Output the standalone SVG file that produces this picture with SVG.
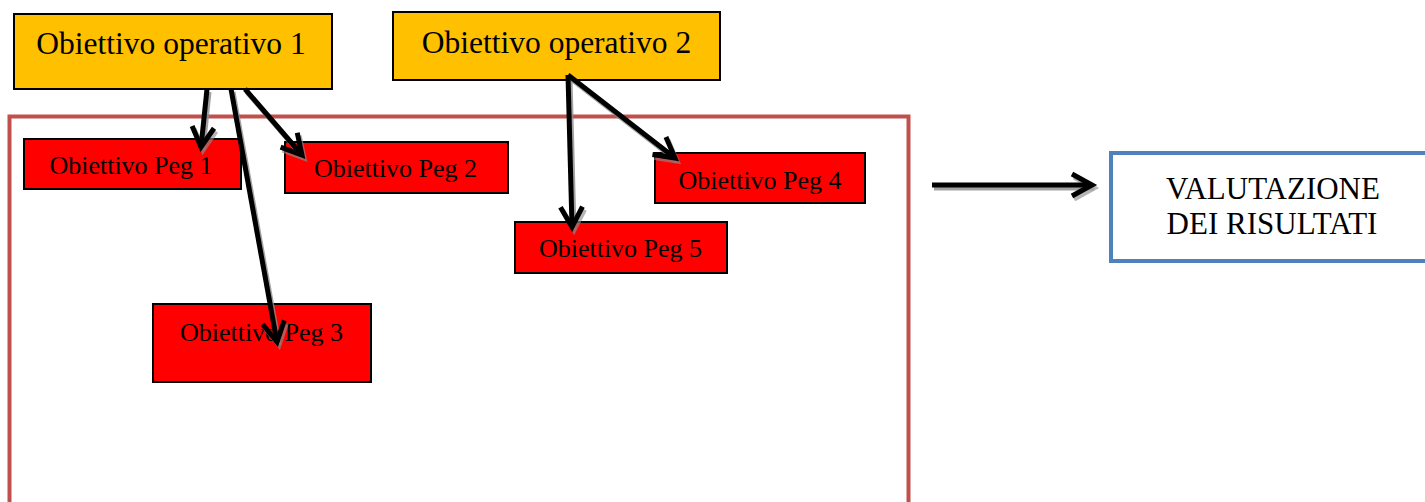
<svg xmlns="http://www.w3.org/2000/svg" width="1425" height="502" viewBox="0 0 1425 502">
<style>
.op{fill:#FFC000;stroke:#000;stroke-width:2}
.peg{fill:#FF0000;stroke:#000;stroke-width:2}
.t{font-family:"Liberation Serif","Times New Roman",serif;fill:#000;text-anchor:middle}
.top{font-size:31.5px}
.tp{font-size:26px}
.tv{font-size:31px}
.ln{fill:none;stroke:#000;stroke-width:5;stroke-linejoin:miter}
.sh{fill:none;stroke:#8C8C8C;stroke-width:5;opacity:0.8}
</style>
<defs>
<marker id="ah" markerUnits="userSpaceOnUse" viewBox="-30 -20 40 40" markerWidth="40" markerHeight="40" refX="0" refY="0" orient="auto" overflow="visible">
<path d="M -20 -11 L 0 0 L -20 11" fill="none" stroke="#000" stroke-width="5"/>
</marker>
<marker id="ahs" markerUnits="userSpaceOnUse" viewBox="-30 -20 40 40" markerWidth="40" markerHeight="40" refX="0" refY="0" orient="auto" overflow="visible">
<path d="M -20 -11 L 0 0 L -20 11" fill="none" stroke="#8C8C8C" stroke-width="5" opacity="0.8"/>
</marker>
</defs>
<rect width="1425" height="502" fill="#fff"/>
<g id="area">
<rect x="9.5" y="116.5" width="899" height="420" fill="none" stroke="#C0504D" stroke-width="4"/>
</g>
<g id="op1">
<rect class="op" x="14" y="14" width="318" height="75"/>
<text class="t top" x="171" y="54">Obiettivo operativo 1</text>
</g>
<g id="op2">
<rect class="op" x="393" y="12" width="327" height="68"/>
<text class="t top" x="556.5" y="53">Obiettivo operativo 2</text>
</g>
<g id="peg1">
<rect class="peg" x="24" y="139" width="217" height="50"/>
<text class="t tp" x="131" y="174">Obiettivo Peg 1</text>
</g>
<g id="peg2">
<rect class="peg" x="285" y="142" width="223" height="51"/>
<text class="t tp" x="395.5" y="177">Obiettivo Peg 2</text>
</g>
<g id="peg3">
<rect class="peg" x="153" y="304" width="218" height="78"/>
<text class="t tp" x="261.5" y="341">Obiettivo Peg 3</text>
</g>
<g id="peg4">
<rect class="peg" x="655" y="153" width="210" height="50"/>
<text class="t tp" x="760" y="189">Obiettivo Peg 4</text>
</g>
<g id="peg5">
<rect class="peg" x="515" y="222" width="212" height="51"/>
<text class="t tp" x="620.5" y="257">Obiettivo Peg 5</text>
</g>
<g id="valutazione">
<rect x="1111" y="153" width="330" height="108" fill="#fff" stroke="#4F81BD" stroke-width="4"/>
<text class="t tv" x="1273" y="199">VALUTAZIONE</text>
<text class="t tv" x="1272" y="234">DEI RISULTATI</text>
</g>
<g id="connectors">
<g transform="translate(2,3)">
<path class="sh" d="M 207 89 L 201 147" marker-end="url(#ahs)"/>
<path class="sh" d="M 231 89 L 277 342" marker-end="url(#ahs)"/>
<path class="sh" d="M 245 89 L 302 155" marker-end="url(#ahs)"/>
<path class="sh" d="M 568 75 L 572 227" marker-end="url(#ahs)"/>
<path class="sh" d="M 568 75 L 675 158" marker-end="url(#ahs)"/>
<path class="sh" d="M 932 185 L 1092 185" marker-end="url(#ahs)"/>
</g>
<path class="ln" d="M 207 89 L 201 147" marker-end="url(#ah)"/>
<path class="ln" d="M 231 89 L 277 342" marker-end="url(#ah)"/>
<path class="ln" d="M 245 89 L 302 155" marker-end="url(#ah)"/>
<path class="ln" d="M 568 75 L 572 227" marker-end="url(#ah)"/>
<path class="ln" d="M 568 75 L 675 158" marker-end="url(#ah)"/>
<path class="ln" d="M 932 185 L 1092 185" marker-end="url(#ah)"/>
</g>
</svg>
